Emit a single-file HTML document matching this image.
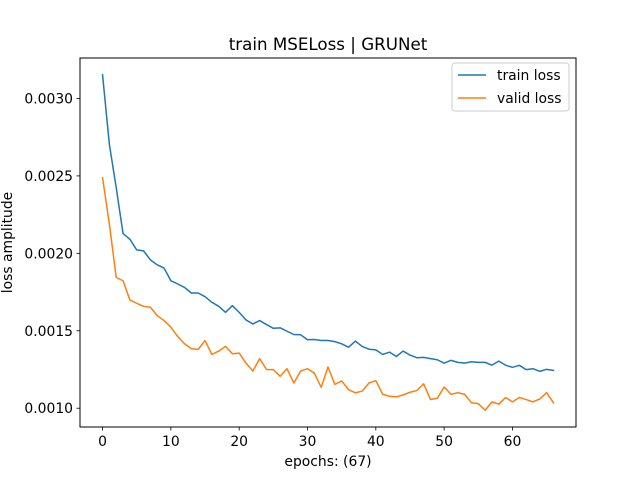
<!DOCTYPE html>
<html><head><meta charset="utf-8"><style>
body{margin:0;background:#fff}
svg text{font-family:"DejaVu Sans","Liberation Sans",sans-serif;fill:#000}
</style></head><body>
<svg id="chart" width="640" height="480" viewBox="0 0 640 480" xmlns="http://www.w3.org/2000/svg">
<rect width="640" height="480" fill="#fff"/>
<text x="328" y="50" font-size="16.7" text-anchor="middle">train MSELoss | GRUNet</text>
<g id="grid"></g>
<g id="series"></g>
<rect x="80" y="58" width="496" height="369" fill="none" stroke="#000" stroke-width="1"/>
<g id="ticks"></g>
<text x="328" y="466" font-size="13.9" text-anchor="middle">epochs: (67)</text>
<text transform="translate(12,242.5) rotate(-90)" font-size="13.9" text-anchor="middle">loss amplitude</text>
<g>
<rect x="452" y="63" width="117" height="48" rx="3" fill="#fff" fill-opacity="0.8" stroke="#ccc"/>
<line x1="458" y1="75" x2="486" y2="75" stroke="#1f77b4" stroke-width="1.5"/>
<text x="497" y="80" font-size="13.9">train loss</text>
<line x1="458" y1="98" x2="486" y2="98" stroke="#ff7f0e" stroke-width="1.5"/>
<text x="497" y="103" font-size="13.9">valid loss</text>
</g>
</svg>
<script>
const trainLoss=[0.003153,0.0027025,0.002424,0.002128,0.002091,0.002022,0.002016,0.001958,0.001926,0.001905,0.001823,0.001802,0.00178,0.001744,0.001744,0.00172,0.001684,0.001658,0.001619,0.001662,0.001619,0.00157,0.001544,0.001566,0.00154,0.001516,0.001519,0.001497,0.001476,0.001474,0.001442,0.001444,0.001437,0.001437,0.00143,0.001416,0.001394,0.001433,0.001399,0.001381,0.001377,0.001347,0.001362,0.001334,0.001369,0.001343,0.001326,0.001328,0.00132,0.001313,0.001291,0.001309,0.001296,0.001291,0.0013,0.001296,0.001296,0.001278,0.001304,0.001278,0.001264,0.001277,0.001249,0.001255,0.001238,0.001251,0.001244];
const validLoss=[0.002488,0.002188,0.001844,0.001823,0.001699,0.001677,0.001658,0.001652,0.001598,0.001566,0.001523,0.001463,0.001416,0.001384,0.00138,0.001437,0.001347,0.001369,0.001399,0.001352,0.001356,0.001291,0.00124,0.00132,0.00125,0.001249,0.001206,0.001255,0.001163,0.00124,0.001255,0.001227,0.001135,0.001266,0.001154,0.001176,0.00112,0.0011,0.00111,0.001163,0.001178,0.00109,0.001077,0.001073,0.001086,0.001103,0.001114,0.001158,0.001056,0.001064,0.001137,0.00109,0.0011,0.00109,0.001035,0.00103,0.000987,0.001041,0.001026,0.001069,0.001041,0.001069,0.001056,0.001041,0.00106,0.0011,0.001035];
const xTicks=[0,10,20,30,40,50,60];
const yTicks=[0.0010,0.0015,0.0020,0.0025,0.0030];
const yTickLabels=["0.0010","0.0015","0.0020","0.0025","0.0030"];

const NS="http://www.w3.org/2000/svg";
const L=80,R=576,T=58,B=427;
const n=trainLoss.length;
const xmin=-(n-1)*0.05,xmax=(n-1)*1.05;
const all=trainLoss.concat(validLoss);
const dmin=Math.min(...all),dmax=Math.max(...all),pad=(dmax-dmin)*0.05;
const ymin=dmin-pad,ymax=dmax+pad;
const xs=v=>L+(v-xmin)/(xmax-xmin)*(R-L);
const ys=v=>B-(v-ymin)/(ymax-ymin)*(B-T);
function mk(tag,attrs,parent){const e=document.createElementNS(NS,tag);for(const k in attrs)e.setAttribute(k,attrs[k]);parent.appendChild(e);return e;}
const ticks=document.getElementById('ticks');
xTicks.forEach(t=>{
  const x=xs(t);
  const l=mk('line',{x1:x,x2:x,y1:B,y2:B+3.5,stroke:'#000','stroke-width':0.8},ticks);
  
  
  const tx=mk('text',{x:x,y:B+19,'font-size':13.9,'text-anchor':'middle'},ticks);
  tx.textContent=String(t);
  
  
});
yTicks.forEach((t,i)=>{
  const y=ys(t);
  const l=mk('line',{x1:L-3.5,x2:L,y1:y,y2:y,stroke:'#000','stroke-width':0.8},ticks);
  
  
  const tx=mk('text',{x:L-7,y:y+5,'font-size':13.9,'text-anchor':'end'},ticks);
  tx.textContent=yTickLabels[i];
  
  
});
const series=document.getElementById('series');
function line(arr,color,name){
  const d=arr.map((v,i)=>(i?'L':'M')+xs(i).toFixed(2)+','+ys(v).toFixed(2)).join(' ');
  const p=mk('path',{d:d,fill:'none',stroke:color,'stroke-width':1.5,'stroke-linejoin':'round','stroke-linecap':'square'},series);
  
  
}
line(trainLoss,'#1f77b4','train-loss-line');
line(validLoss,'#ff7f0e','valid-loss-line');
</script>
</body></html>
